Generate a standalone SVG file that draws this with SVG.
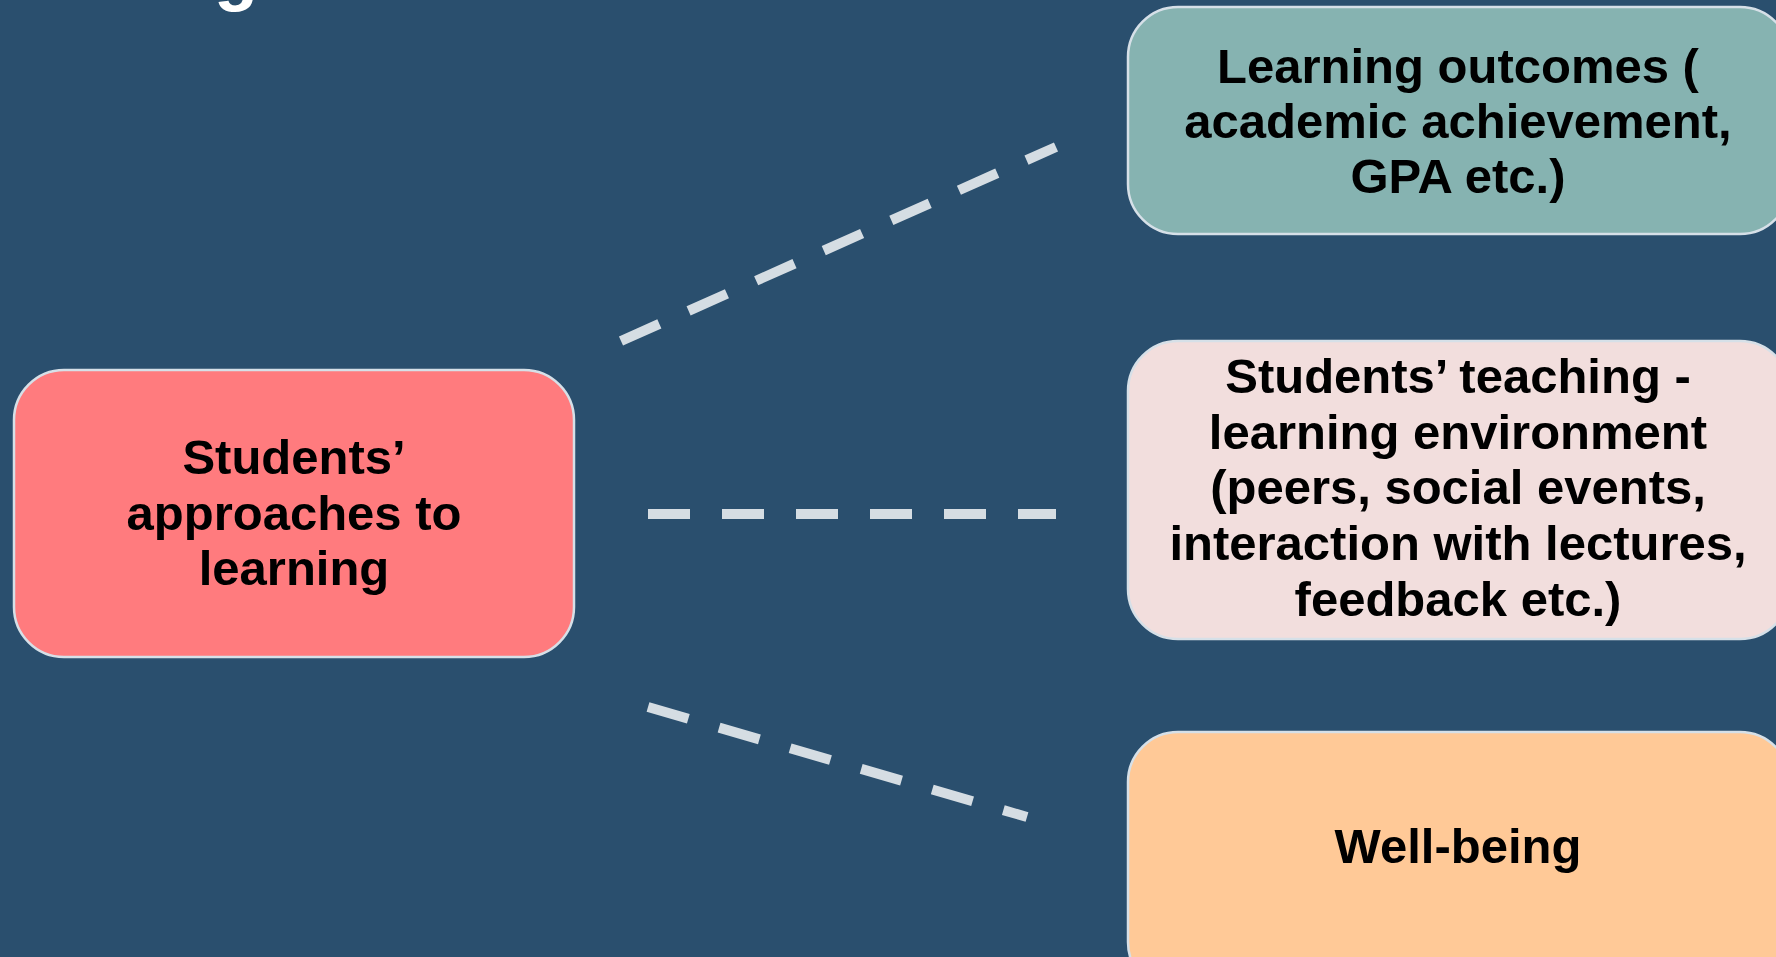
<svg xmlns="http://www.w3.org/2000/svg" width="1776" height="957" viewBox="0 0 1776 957">
  <style>
    .box { stroke: #d6e0e8; stroke-width: 2.5; }
    .label { font-family: "Liberation Sans", Arial, sans-serif; font-weight: bold; font-size: 49px; fill: #000; text-anchor: middle; }
    .link { fill: none; stroke: #d5dde3; stroke-width: 10; stroke-dasharray: 42 32; stroke-linecap: butt; }
  </style>
  <rect x="0" y="0" width="1776" height="957" fill="#2a4f6e"/>

  <!-- descender of the heading above the view -->
  <text x="236" y="-3" font-family="Liberation Sans, Arial, sans-serif" font-weight="bold" font-size="72" fill="#ffffff" text-anchor="middle">g</text>

  <g id="connectors">
    <line class="link" x1="621" y1="341" x2="1056" y2="147"/>
    <line class="link" x1="648" y1="514" x2="1056" y2="514"/>
    <line class="link" x1="648" y1="707" x2="1027" y2="817"/>
  </g>

  <g id="node-approaches">
    <rect class="box" x="14" y="370" width="560" height="287" rx="50" fill="#ff7b7e"/>
    <text class="label" x="294" y="474">Students’<tspan x="294" dy="55.5">approaches to</tspan><tspan x="294" dy="55.5">learning</tspan></text>
  </g>

  <g id="node-outcomes">
    <rect class="box" x="1128" y="7" width="662" height="227" rx="50" fill="#86b3b1"/>
    <text class="label" x="1458" y="83">Learning outcomes (<tspan x="1458" dy="55">academic achievement,</tspan><tspan x="1458" dy="55">GPA etc.)</tspan></text>
  </g>

  <g id="node-environment">
    <rect class="box" x="1128" y="341" width="662" height="298" rx="50" fill="#f2dedd"/>
    <text class="label" x="1458" y="393">Students’ teaching -<tspan x="1458" dy="55.7">learning environment</tspan><tspan x="1458" dy="55.7">(peers, social events,</tspan><tspan x="1458" dy="55.7">interaction with lectures,</tspan><tspan x="1458" dy="55.7">feedback etc.)</tspan></text>
  </g>

  <g id="node-wellbeing">
    <rect class="box" x="1128" y="732" width="662" height="260" rx="50" fill="#ffc997"/>
    <text class="label" x="1458" y="863">Well-being</text>
  </g>
</svg>
